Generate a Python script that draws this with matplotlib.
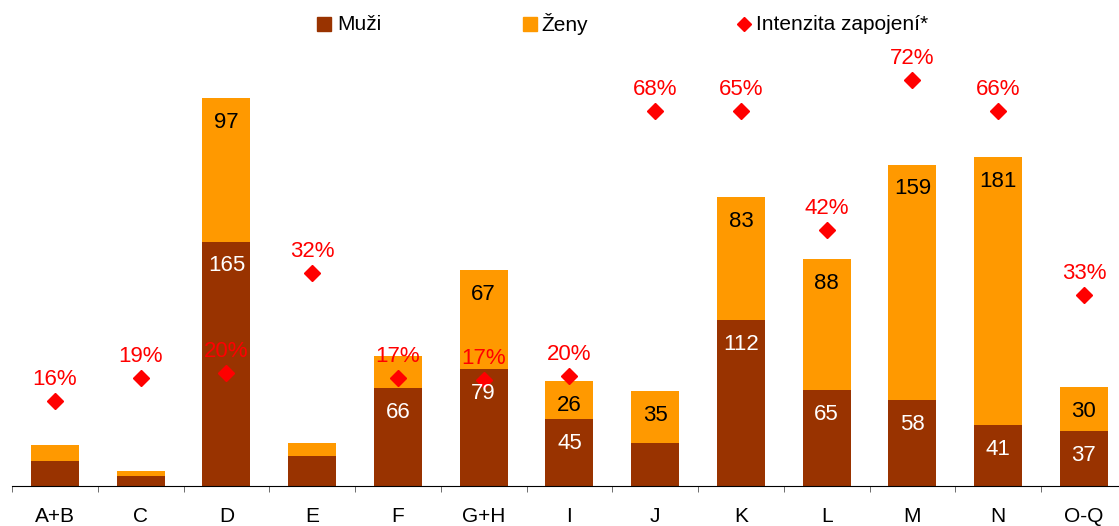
import numpy as np
import matplotlib
matplotlib.use("Agg")
import matplotlib.pyplot as plt
from matplotlib.lines import Line2D

plt.rcParams['font.family'] = ['Liberation Sans', 'DejaVu Sans']

# data
categories = ['A+B', 'C', 'D', 'E', 'F', 'G+H', 'I', 'J', 'K', 'L', 'M', 'N', 'O-Q']
muzi = [17, 7, 165, 20, 66, 79, 45, 29, 112, 65, 58, 41, 37]
zeny = [11, 3, 97, 9, 22, 67, 26, 35, 83, 88, 159, 181, 30]
# which segment values are printed in the bars
muzi_shown = [False, False, True, False, True, True, True, False, True, True, True, True, True]
zeny_shown = [False, False, True, False, False, True, True, True, True, True, True, True, True]
# intensity of involvement (label values) and the heights where the markers sit
intenzita_labels = [16, 19, 20, 32, 17, 17, 20, 68, 65, 42, 72, 66, 33]
intenzita_marker = [15.2, 19.4, 20.3, 38.2, 19.4, 19.0, 19.7, 67.3, 67.3, 45.9, 72.8, 67.3, 34.3]

legend_labels = ['Muži', 'Ženy', 'Intenzita zapojení*']

c_muzi = '#993300'
c_zeny = '#FF9900'
c_int = '#FF0000'

fig = plt.figure(figsize=(11.19, 5.26), dpi=100)
ax = fig.add_axes([12 / 1119, 40 / 526, 1114.75 / 1119, 446 / 526])

x = np.arange(len(categories))
w = 0.56
ax.bar(x, muzi, w, color=c_muzi, zorder=2)
ax.bar(x, zeny, w, bottom=muzi, color=c_zeny, zorder=2)

ax.set_xlim(-0.5, len(categories) - 0.5)
ax.set_ylim(0, 301.2)

ax2 = ax.twinx()
ax2.set_ylim(0, 80)
ax2.plot(x, intenzita_marker, linestyle='none', marker='D', markersize=8.5, color=c_int, zorder=3)
for i in range(len(categories)):
    ax2.annotate(f'{intenzita_labels[i]}%', (x[i], intenzita_marker[i]), xytext=(0, 15.5),
                 textcoords='offset points', ha='center', va='center', color=c_int, fontsize=16)
ax2.set_zorder(ax.get_zorder() + 1)
ax2.patch.set_visible(False)
ax2.axis('off')

# bar values go on top of everything
px_per_unit = 446 / 301.2
for i in range(len(categories)):
    if muzi_shown[i]:
        ax2.annotate(str(muzi[i]), (x[i], 0), xycoords=('data', 'axes fraction'),
                     xytext=(0, muzi[i] * px_per_unit * 0.72 - 17.5), textcoords='offset points',
                     ha='center', va='center', color='white', fontsize=16, zorder=6)
    if zeny_shown[i]:
        ax2.annotate(str(zeny[i]), (x[i], 0), xycoords=('data', 'axes fraction'),
                     xytext=(0, (muzi[i] + zeny[i]) * px_per_unit * 0.72 - 17.5), textcoords='offset points',
                     ha='center', va='center', color='black', fontsize=16, zorder=6)

for s in ['top', 'right', 'left']:
    ax.spines[s].set_visible(False)
ax.spines['bottom'].set_color('black')
ax.set_yticks([])
ax.set_xticks(x)
ax.set_xticklabels(categories, fontsize=15)
ax.tick_params(axis='x', which='major', length=0, pad=15)
ax.set_xticks(np.arange(len(categories) + 1) - 0.5, minor=True)
ax.tick_params(axis='x', which='minor', length=4.5, color='#555555', direction='out')

# legend drawn by hand so each entry sits where it does in the original
leg_y = 1 - 24 / 526
leg_marks = [('s', 10, c_muzi, 324), ('s', 10, c_zeny, 530), ('D', 7.6, c_int, 743.5)]
leg_text_x = [337, 541, 756]
for (m, ms, c, mx), tx, lab in zip(leg_marks, leg_text_x, legend_labels):
    fig.add_artist(Line2D([mx / 1119], [leg_y], transform=fig.transFigure, linestyle='none',
                          marker=m, markersize=ms, color=c))
    fig.text(tx / 1119, leg_y, lab, ha='left', va='center', fontsize=15)

fig.savefig('out.png', dpi=100)
